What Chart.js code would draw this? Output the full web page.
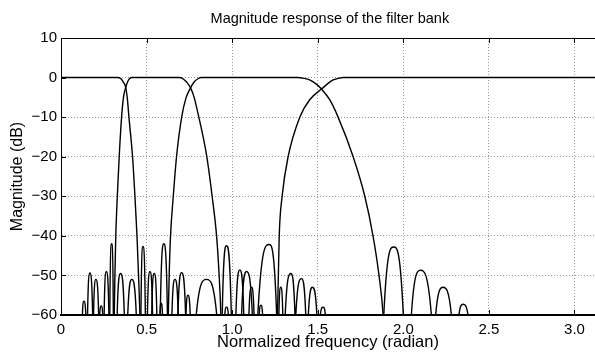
<!DOCTYPE html>
<html>
<head>
<meta charset="utf-8">
<script src="https://cdn.jsdelivr.net/npm/chart.js@4"></script>
<style>
  body { margin: 0; background: #fff; }
  canvas { display: block; }
</style>
</head>
<body>
<canvas id="bank" width="595" height="354"></canvas>
<script>
// tick labels
const xTicks = [0, 0.5, 1, 1.5, 2, 2.5, 3];
const yTicks = [-60, -50, -40, -30, -20, -10, 0, 10];
const chartTitle = 'Magnitude response of the filter bank';

// magnitude (dB) vs normalized frequency; -90 = below the axis
const lowpass = [
    [0, 0], [0.33, 0], [0.35, -0.3], [0.365, -1.2], [0.378, -2.5], [0.388, -5.5], [0.397, -10],
    [0.418, -20], [0.432, -30], [0.444, -40], [0.453, -50], [0.461, -60], [0.467, -72], [0.473, -90],
    [0.527, -90], [0.53, -60], [0.545, -49.5], [0.56, -60], [0.563, -90],
    [0.575, -90], [0.578, -60], [0.585, -57], [0.593, -60], [0.596, -90],
    [0.68, -90], [0.683, -60], [0.705, -49.3], [0.728, -60], [0.731, -90],
    [0.954, -90], [0.957, -60], [0.967, -58], [0.978, -60], [0.981, -90],
    [1.095, -90], [1.098, -60], [1.113, -53], [1.128, -60], [1.131, -90],
    [1.147, -90], [1.15, -60], [1.216, -42.2], [1.26, -60], [1.263, -90],
    [1.883, -90], [1.886, -60], [1.944, -42.8], [2.0, -60], [2.003, -90],
    [2.044, -90], [2.047, -60], [2.1, -48.7], [2.164, -60], [2.167, -90],
    [2.186, -90], [2.189, -60], [2.232, -53], [2.281, -60], [2.284, -90],
    [2.322, -90], [2.325, -60], [2.349, -57.3], [2.378, -60], [2.381, -90],
    [3.12, -90]
];

const band2 = [
    [0, -90], [0.187, -90], [0.19, -60], [0.204, -51], [0.22, -60], [0.223, -90],
    [0.249, -90], [0.252, -60], [0.265, -49], [0.28, -60], [0.283, -90],
    [0.3, -90], [0.306, -72], [0.311, -60], [0.315, -50], [0.32, -40], [0.329, -30], [0.34, -20],
    [0.354, -10], [0.365, -5], [0.378, -2.5], [0.39, -1], [0.4, -0.3], [0.415, 0], [0.69, 0],
    [0.712, -0.3], [0.735, -1.2], [0.757, -2.6], [0.778, -5], [0.8, -9], [0.85, -19.5], [0.883, -30],
    [0.909, -40], [0.924, -50], [0.934, -60], [0.94, -72], [0.946, -90],
    [1.019, -90], [1.022, -60], [1.045, -48.6], [1.068, -60], [1.071, -90],
    [1.155, -90], [1.158, -60], [1.168, -57.5], [1.178, -60], [1.181, -90],
    [1.27, -90], [1.273, -60], [1.284, -53], [1.296, -60], [1.299, -90],
    [1.307, -90], [1.31, -60], [1.343, -49.5], [1.367, -60], [1.3695, -90],
    [1.372, -60], [1.405, -50.8], [1.43, -60], [1.433, -90],
    [1.442, -90], [1.445, -60], [1.469, -53], [1.495, -60], [1.498, -90],
    [1.512, -90], [1.515, -60], [1.531, -58], [1.545, -60], [1.548, -90],
    [3.12, -90]
];

const band3 = [
    [0, -90], [0.122, -90], [0.125, -60], [0.134, -56.5], [0.145, -60], [0.148, -90],
    [0.223, -90], [0.226, -60], [0.235, -57.7], [0.244, -60], [0.247, -90],
    [0.325, -90], [0.328, -60], [0.348, -49.5], [0.37, -60], [0.373, -90],
    [0.464, -90], [0.467, -60], [0.479, -42.7], [0.493, -60], [0.496, -90],
    [0.502, -90], [0.505, -60], [0.52, -49], [0.535, -60], [0.538, -90],
    [0.612, -90], [0.621, -72], [0.627, -60], [0.632, -50], [0.64, -40], [0.656, -30], [0.675, -20],
    [0.705, -10], [0.73, -5.2], [0.757, -2.6], [0.78, -1], [0.8, -0.3], [0.82, 0], [1.38, 0],
    [1.42, -0.2], [1.453, -0.6], [1.49, -1.6], [1.522, -2.9], [1.57, -5.6], [1.619, -10], [1.707, -20],
    [1.775, -30], [1.823, -40], [1.858, -50], [1.882, -60], [1.898, -75], [1.91, -90],
    [3.12, -90]
];

const highpass = [
    [0, -90], [0.152, -90], [0.155, -60], [0.169, -49.4], [0.185, -60], [0.188, -90],
    [0.282, -90], [0.285, -60], [0.296, -42], [0.306, -60], [0.309, -90],
    [0.387, -90], [0.39, -60], [0.414, -51], [0.44, -60], [0.443, -90],
    [0.577, -90], [0.58, -60], [0.601, -42], [0.622, -60], [0.625, -90],
    [0.645, -90], [0.648, -60], [0.666, -51], [0.685, -60], [0.688, -90],
    [0.727, -90], [0.73, -60], [0.742, -55], [0.755, -60], [0.758, -90],
    [0.787, -90], [0.79, -60], [0.85, -51], [0.91, -60], [0.913, -90],
    [0.939, -90], [0.942, -60], [0.967, -42.5], [0.995, -60], [0.998, -90],
    [1.052, -90], [1.055, -60], [1.084, -49], [1.118, -60], [1.121, -90],
    [1.248, -90], [1.258, -72], [1.265, -60], [1.27, -50], [1.275, -40], [1.292, -30], [1.327, -20],
    [1.395, -10], [1.453, -5.6], [1.522, -2.9], [1.59, -0.6], [1.62, -0.2], [1.65, 0], [3.12, 0]
];

const FONT = "'Liberation Sans', Arial, Helvetica, sans-serif";

// top border, inward tick marks and the title centred over the plot
const frame = {
    id: 'frame',
    afterDraw(chart) {
        const {ctx, chartArea: a, scales: {x, y}} = chart;
        ctx.save();
        ctx.strokeStyle = '#000';
        ctx.lineWidth = 1;
        ctx.beginPath();
        ctx.moveTo(a.left, a.top + 0.5);
        ctx.lineTo(a.right, a.top + 0.5);
        xTicks.forEach(v => {
            const px = Math.round(x.getPixelForValue(v)) + 0.5;
            ctx.moveTo(px, a.bottom); ctx.lineTo(px, a.bottom - 5);
            ctx.moveTo(px, a.top); ctx.lineTo(px, a.top + 5);
        });
        yTicks.forEach(v => {
            const py = Math.round(y.getPixelForValue(v)) + 0.5;
            ctx.moveTo(a.left, py); ctx.lineTo(a.left + 5, py);
        });
        ctx.stroke();

        ctx.fillStyle = '#000';
        ctx.font = '14.5px ' + FONT;
        ctx.textAlign = 'center';
        ctx.textBaseline = 'middle';
        ctx.fillText(chartTitle, x.getPixelForValue(Math.PI / 2), 19);
        ctx.restore();
    }
};

const toXY = pts => pts.map(([x, y]) => ({x, y}));

new Chart(document.getElementById('bank'), {
    type: 'line',
    data: {
        datasets: [lowpass, band2, band3, highpass].map(pts => ({
            data: toXY(pts),
            borderColor: '#000',
            borderWidth: 1.4,
            pointRadius: 0,
            fill: false,
            cubicInterpolationMode: 'monotone'
        }))
    },
    options: {
        responsive: false,
        animation: false,
        devicePixelRatio: 1,
        layout: {padding: {top: 38, left: 0, right: 0, bottom: 0}},
        plugins: {
            legend: {display: false},
            tooltip: {enabled: false},
            title: {display: false}
        },
        scales: {
            x: {
                type: 'linear',
                min: 0,
                max: 3.12,
                afterBuildTicks: s => { s.ticks = xTicks.map(v => ({value: v})); },
                afterFit: s => { s.height = 39; },
                ticks: {color: '#000', font: {family: FONT, size: 15}, padding: 6, maxRotation: 0},
                grid: {color: '#999', drawTicks: false},
                border: {color: '#000', width: 2, dash: [1, 2]},
                title: {
                    display: true,
                    text: 'Normalized frequency (radian)',
                    color: '#000',
                    font: {family: FONT, size: 16.5},
                    padding: {top: 0, bottom: 2}
                }
            },
            y: {
                type: 'linear',
                min: -60,
                max: 10,
                afterBuildTicks: s => { s.ticks = yTicks.map(v => ({value: v})); },
                afterFit: s => { s.width = 61; },
                ticks: {
                    color: '#000',
                    font: {family: FONT, size: 15},
                    padding: 4,
                    callback: v => String(v).replace('-', '\u2212')
                },
                grid: {color: '#999', drawTicks: false},
                border: {color: '#000', width: 1, dash: [1, 2]},
                title: {
                    display: true,
                    text: 'Magnitude (dB)',
                    color: '#000',
                    font: {family: FONT, size: 16},
                    padding: {top: 8, bottom: 0}
                }
            }
        }
    },
    plugins: [frame]
});
</script>
</body>
</html>
